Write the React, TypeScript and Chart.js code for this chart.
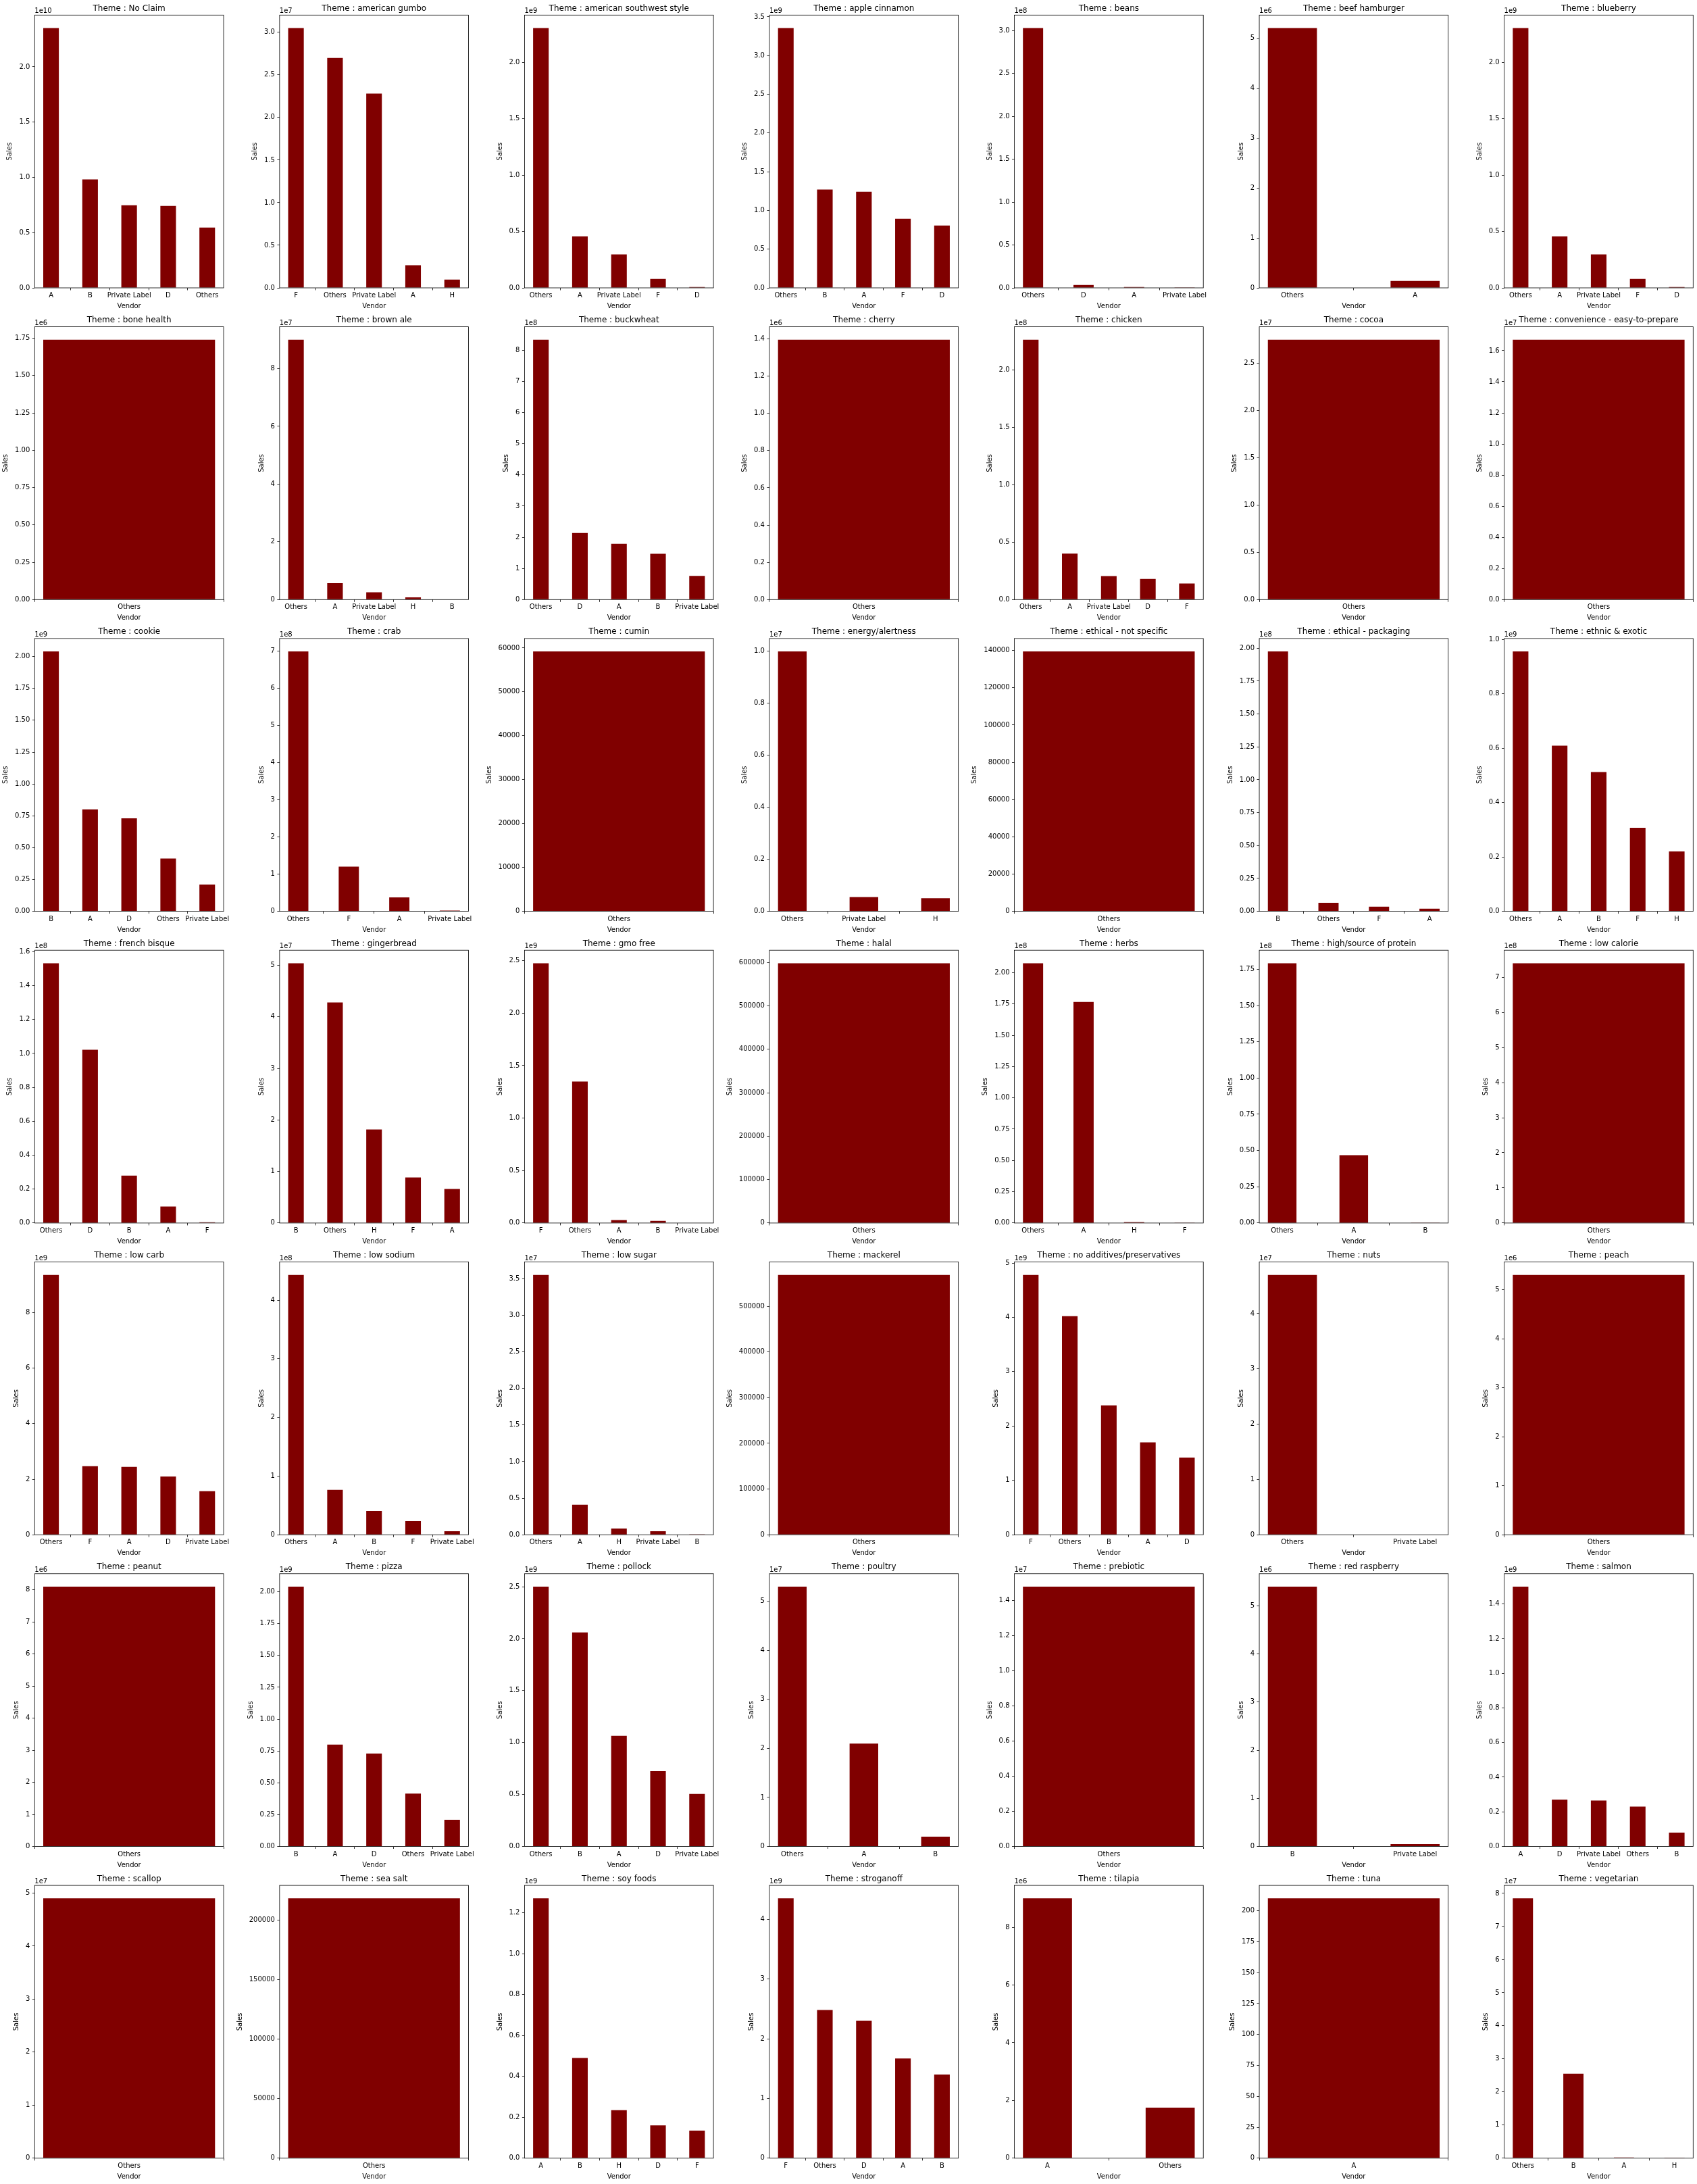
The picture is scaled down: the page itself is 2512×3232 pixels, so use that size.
import React, { useEffect, useRef } from "react";
import { Chart, registerables } from "chart.js";

Chart.register(...registerables);

// ---------------- data ----------------
const THEMES: string[] = [
  "No Claim", "american gumbo", "american southwest style", "apple cinnamon", "beans", "beef hamburger", "blueberry",
  "bone health", "brown ale", "buckwheat", "cherry", "chicken", "cocoa", "convenience - easy-to-prepare",
  "cookie", "crab", "cumin", "energy/alertness", "ethical - not specific", "ethical - packaging", "ethnic & exotic",
  "french bisque", "gingerbread", "gmo free", "halal", "herbs", "high/source of protein", "low calorie",
  "low carb", "low sodium", "low sugar", "mackerel", "no additives/preservatives", "nuts", "peach",
  "peanut", "pizza", "pollock", "poultry", "prebiotic", "red raspberry", "salmon",
  "scallop", "sea salt", "soy foods", "stroganoff", "tilapia", "tuna", "vegetarian",
];

const VENDORS: string[][] = [
  ["A", "B", "Private Label", "D", "Others"],
  ["F", "Others", "Private Label", "A", "H"],
  ["Others", "A", "Private Label", "F", "D"],
  ["Others", "B", "A", "F", "D"],
  ["Others", "D", "A", "Private Label"],
  ["Others", "A"],
  ["Others", "A", "Private Label", "F", "D"],
  ["Others"],
  ["Others", "A", "Private Label", "H", "B"],
  ["Others", "D", "A", "B", "Private Label"],
  ["Others"],
  ["Others", "A", "Private Label", "D", "F"],
  ["Others"],
  ["Others"],
  ["B", "A", "D", "Others", "Private Label"],
  ["Others", "F", "A", "Private Label"],
  ["Others"],
  ["Others", "Private Label", "H"],
  ["Others"],
  ["B", "Others", "F", "A"],
  ["Others", "A", "B", "F", "H"],
  ["Others", "D", "B", "A", "F"],
  ["B", "Others", "H", "F", "A"],
  ["F", "Others", "A", "B", "Private Label"],
  ["Others"],
  ["Others", "A", "H", "F"],
  ["Others", "A", "B"],
  ["Others"],
  ["Others", "F", "A", "D", "Private Label"],
  ["Others", "A", "B", "F", "Private Label"],
  ["Others", "A", "H", "Private Label", "B"],
  ["Others"],
  ["F", "Others", "B", "A", "D"],
  ["Others", "Private Label"],
  ["Others"],
  ["Others"],
  ["B", "A", "D", "Others", "Private Label"],
  ["Others", "B", "A", "D", "Private Label"],
  ["Others", "A", "B"],
  ["Others"],
  ["B", "Private Label"],
  ["A", "D", "Private Label", "Others", "B"],
  ["Others"],
  ["Others"],
  ["A", "B", "H", "D", "F"],
  ["F", "Others", "D", "A", "B"],
  ["A", "Others"],
  ["A"],
  ["Others", "B", "A", "H"],
];

const SALES: number[][] = [
  [2.351e10, 0.981e10, 0.748e10, 0.742e10, 0.546e10],
  [3.05e7, 2.70e7, 2.28e7, 0.265e7, 0.098e7],
  [2.304e9, 0.457e9, 0.296e9, 0.08e9, 0.008e9],
  [3.355e9, 1.269e9, 1.242e9, 0.893e9, 0.806e9],
  [3.029e8, 0.034e8, 0.0105e8, 0.001e8],
  [5.2e6, 0.14e6],
  [2.304e9, 0.457e9, 0.296e9, 0.08e9, 0.007e9],
  [1.74e6],
  [9.0e7, 0.57e7, 0.25e7, 0.08e7, 0.01e7],
  [8.34e8, 2.14e8, 1.79e8, 1.47e8, 0.76e8],
  [1.395e6],
  [2.26e8, 0.40e8, 0.205e8, 0.18e8, 0.14e8],
  [2.75e7],
  [1.67e7],
  [2.04e9, 0.80e9, 0.73e9, 0.415e9, 0.21e9],
  [6.98e8, 1.2e8, 0.375e8, 0.02e8],
  [59200],
  [0.998e7, 0.055e7, 0.05e7],
  [139500],
  [1.975e8, 0.065e8, 0.035e8, 0.02e8],
  [0.955e9, 0.609e9, 0.512e9, 0.307e9, 0.22e9],
  [1.532e8, 1.022e8, 0.28e8, 0.097e8, 0.005e8],
  [5.04e7, 4.28e7, 1.814e7, 0.883e7, 0.66e7],
  [2.476e9, 1.349e9, 0.028e9, 0.021e9, 0.002e9],
  [598000],
  [2.076e8, 1.766e8, 0.007e8, 0.001e8],
  [1.792e8, 0.468e8, 0.001e8],
  [7.40e8],
  [9.355e9, 2.467e9, 2.442e9, 2.10e9, 1.566e9],
  [4.43e8, 0.765e8, 0.407e8, 0.234e8, 0.06e8],
  [3.552e7, 0.41e7, 0.086e7, 0.049e7, 0.002e7],
  [568500],
  [4.78e9, 4.02e9, 2.38e9, 1.70e9, 1.42e9],
  [4.7e7, 0.005e7],
  [5.3e6],
  [8.1e6],
  [2.04e9, 0.80e9, 0.73e9, 0.415e9, 0.21e9],
  [2.5e9, 2.06e9, 1.065e9, 0.725e9, 0.505e9],
  [5.3e7, 2.1e7, 0.2e7],
  [1.48e7],
  [5.4e6, 0.05e6],
  [1.5e9, 0.27e9, 0.265e9, 0.23e9, 0.08e9],
  [4.9e7],
  [218000],
  [1.27e9, 0.49e9, 0.235e9, 0.16e9, 0.135e9],
  [4.35e9, 2.48e9, 2.3e9, 1.67e9, 1.4e9],
  [9.0e6, 1.75e6],
  [210],
  [7.85e7, 2.555e7, 0.02e7, 0.003e7],
];

// ---------------- layout / style ----------------
const FIG_W = 2512;
const FIG_H = 3232;
const NCOLS = 7;
const AX_LEFT0 = 51.3;
const AX_TOP0 = 22.3;
const COL_STEP = 362.55;
const ROW_STEP = 461.3;
const AX_W = 279.7;
const AX_H = 403.7;
const PAD_L = 72;
const PAD_T = 26;
const PAD_R = 34;
const PAD_B = 52;
const FONT = "'DejaVu Sans', sans-serif";
const BAR_COLOR = "#800000";
const BAR_WIDTH = 0.4;

Chart.defaults.font.family = FONT;

function mplTicks(vmax: number) {
  const nbins = 9;
  const raw = vmax / nbins;
  const scale = Math.pow(10, Math.floor(Math.log10(raw)));
  const mults = [1, 2, 2.5, 5, 10];
  let step = 10 * scale;
  for (const m of mults) {
    if (m * scale >= raw * (1 - 1e-12)) {
      step = m * scale;
      break;
    }
  }
  const ticks: number[] = [];
  for (let i = 0; i * step <= vmax * (1 + 1e-9); i++) ticks.push(i * step);
  return { ticks, step };
}

function Panel({ idx }: { idx: number }) {
  const ref = useRef<HTMLCanvasElement | null>(null);
  const col = idx % NCOLS;
  const row = Math.floor(idx / NCOLS);
  const axL = AX_LEFT0 + col * COL_STEP;
  const axT = AX_TOP0 + row * ROW_STEP;
  const left = Math.floor(axL) - PAD_L;
  const top = Math.floor(axT) - PAD_T;
  const width = PAD_L + Math.ceil(AX_W) + PAD_R;
  const height = PAD_T + Math.ceil(AX_H) + PAD_B;

  useEffect(() => {
    const canvas = ref.current;
    if (!canvas) return;
    const labels = VENDORS[idx];
    const values = SALES[idx];
    const n = labels.length;
    const span = n - 1 + BAR_WIDTH;
    const xmin = -BAR_WIDTH / 2 - 0.05 * span;
    const xmax = n - 1 + BAR_WIDTH / 2 + 0.05 * span;
    const barPct = n === 1 ? BAR_WIDTH / (xmax - xmin) : BAR_WIDTH;

    const vmax = Math.max(...values) * 1.05;
    const { ticks, step } = mplTicks(vmax);
    const maxTick = ticks[ticks.length - 1];
    const oom = maxTick > 0 ? Math.floor(Math.log10(maxTick) + 1e-9) : 0;
    const useOffset = oom >= 6;
    const div = useOffset ? Math.pow(10, oom) : 1;
    const sstep = step / div;
    let dec = 0;
    while (dec < 6 && Math.abs(Math.round(sstep * Math.pow(10, dec)) - sstep * Math.pow(10, dec)) > 1e-6) dec++;
    const offsetText = useOffset ? `1e${oom}` : "";

    const target = {
      left: axL - left,
      top: axT - top,
      right: axL + AX_W - left,
      bottom: axT + AX_H - top,
    };
    const padding = { left: 0, top: 0, right: width - target.right, bottom: 0 };

    const tickFont = { family: FONT, size: 10, lineHeight: 1.2 };

    const framePlugin = {
      id: "frame" + idx,
      afterDatasetsDraw(chart: any) {
        const a = chart.chartArea;
        const c = chart.ctx;
        c.save();
        c.strokeStyle = "#000";
        c.lineWidth = 0.8;
        c.strokeRect(a.left, a.top, a.right - a.left, a.bottom - a.top);
        c.restore();
      },
      afterDraw(chart: any) {
        if (!offsetText) return;
        const a = chart.chartArea;
        const c = chart.ctx;
        c.save();
        c.font = `10px ${FONT}`;
        c.fillStyle = "#000";
        c.textAlign = "left";
        c.textBaseline = "alphabetic";
        c.fillText(offsetText, a.left, a.top - 3);
        c.restore();
      },
    };

    const chart = new Chart(canvas, {
      type: "bar",
      data: {
        datasets: [
          {
            data: values.map((v, i) => ({ x: i, y: v })),
            backgroundColor: BAR_COLOR,
            borderWidth: 0,
            barPercentage: barPct,
            categoryPercentage: 1,
          },
        ],
      },
      options: {
        responsive: false,
        maintainAspectRatio: false,
        animation: false,
        events: [],
        layout: { padding, autoPadding: false },
        plugins: {
          legend: { display: false },
          tooltip: { enabled: false },
          title: {
            display: true,
            text: `Theme : ${THEMES[idx]}`,
            color: "#000",
            font: { family: FONT, size: 12, weight: "normal", lineHeight: 1.2 },
            padding: { top: 2, bottom: 2.4 },
            fullSize: false,
            align: "center",
          },
        },
        scales: {
          x: {
            type: "linear",
            min: xmin,
            max: xmax,
            offset: false,
            afterBuildTicks: (scale: any) => {
              scale.ticks = labels.map((_, i) => ({ value: i }));
            },
            ticks: {
              autoSkip: false,
              maxRotation: 0,
              minRotation: 0,
              padding: 2,
              color: "#000",
              font: tickFont,
              callback: (v: any) => labels[Math.round(Number(v))] ?? "",
            },
            grid: {
              display: true,
              drawOnChartArea: false,
              drawTicks: true,
              tickLength: 3.5,
              tickWidth: 0.8,
              tickColor: "#000",
            },
            border: { display: false },
            title: {
              display: true,
              text: "Vendor",
              color: "#000",
              font: tickFont,
              padding: { top: 2, bottom: 0 },
            },
          },
          y: {
            type: "linear",
            min: 0,
            max: vmax,
            afterBuildTicks: (scale: any) => {
              scale.ticks = ticks.map((t) => ({ value: t }));
            },
            ticks: {
              padding: 3.5,
              color: "#000",
              font: tickFont,
              callback: (v: any) => (Number(v) / div).toFixed(dec),
            },
            grid: {
              display: true,
              drawOnChartArea: false,
              drawTicks: true,
              tickLength: 3.5,
              tickWidth: 0.8,
              tickColor: "#000",
            },
            border: { display: false },
            title: {
              display: true,
              text: "Sales",
              color: "#000",
              font: tickFont,
              padding: { top: 0, bottom: 4 },
            },
          },
        },
      },
      plugins: [framePlugin],
    } as any);

    for (let k = 0; k < 3; k++) {
      const a = chart.chartArea;
      padding.left += target.left - a.left;
      padding.top += target.top - a.top;
      padding.bottom += a.bottom - target.bottom;
      padding.right += a.right - target.right;
      chart.update();
    }

    return () => chart.destroy();
  }, [idx]);

  return (
    <canvas
      ref={ref}
      width={width}
      height={height}
      style={{ position: "absolute", left, top, width, height, display: "block" }}
    />
  );
}

export default function App() {
  return (
    <div
      style={{
        position: "absolute",
        left: 0,
        top: 0,
        width: FIG_W,
        height: FIG_H,
        overflow: "hidden",
        background: "#fff",
      }}
    >
      {THEMES.map((_, i) => (
        <Panel key={i} idx={i} />
      ))}
    </div>
  );
}
